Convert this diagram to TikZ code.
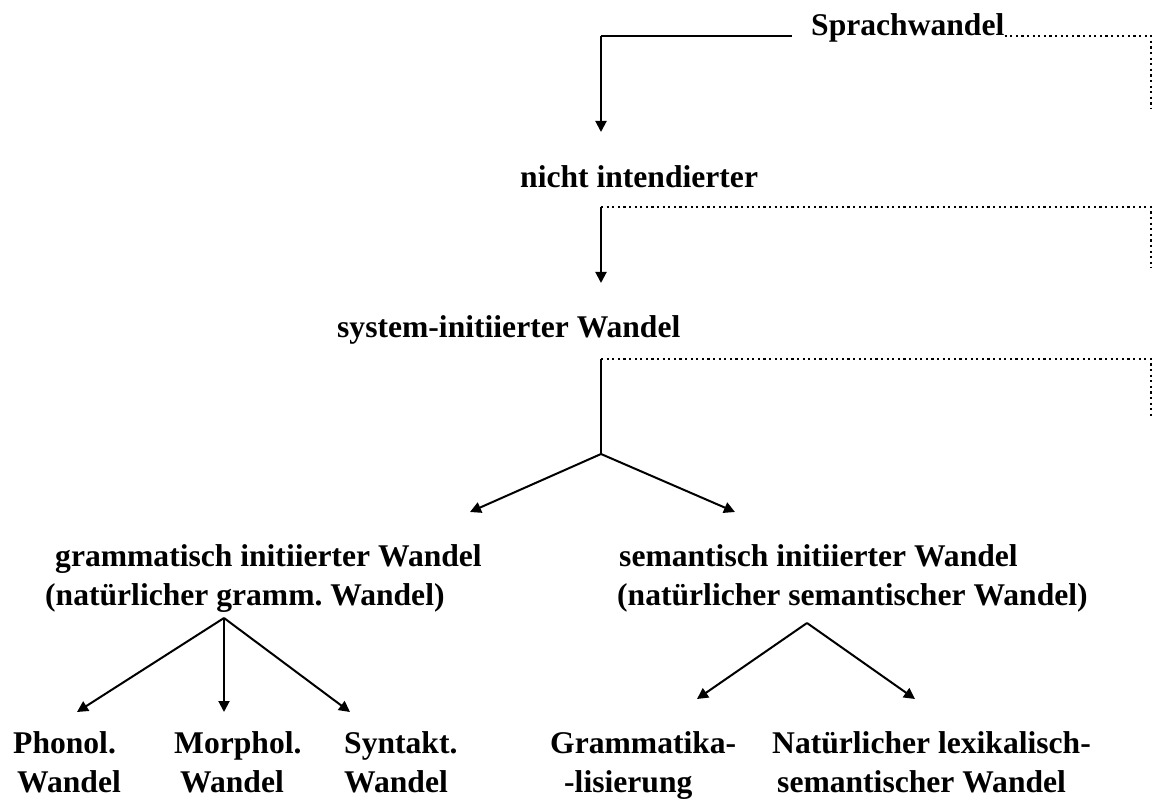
\documentclass[tikz,border=0pt]{standalone}
\usepackage{fontspec}
\setmainfont{Liberation Serif}
\usetikzlibrary{arrows.meta,positioning}
\tikzset{t/.style={inner sep=0pt,anchor=base west,align=left,font=\fontsize{31.6}{38.5}\selectfont\bfseries\frenchspacing},
 ln/.style={line width=2pt},
 ar/.style={line width=2pt,-{Triangle[length=11pt,width=11pt]}},
 dt/.style={line width=2.2pt,dash pattern=on 2.2pt off 3.4pt}}

\begin{document}
\begin{tikzpicture}[x=1pt,y=-1pt]
\useasboundingbox (0,0) rectangle (1159,799);
% Textzeilen
\node[t](s) at (811,36){Sprachwandel};\node[t](n) at (520,188){nicht intendierter};
\node[t](sy) at (337,338){system-initiierter Wandel};
\node[t](g) at (45,605){\hspace*{10pt}grammatisch initiierter Wandel\\(natürlicher gramm. Wandel)};
\node[t](se) at (617,605){\hspace*{2pt}semantisch initiierter Wandel\\(natürlicher semantischer Wandel)};
\node[t](p) at (13,792){Phonol.\\\hspace*{4pt}Wandel};\node[t](m) at (174,792){Morphol.\\\hspace*{6pt}Wandel};
\node[t](sk) at (344,792){Syntakt.\\Wandel};\node[t](gr) at (550,792){Grammatika-\\\hspace*{14pt}-lisierung};
\node[t](nl) at (772,792){Natürlicher lexikalisch-\\\hspace*{5pt}semantischer Wandel};
% Punkte
\coordinate(c1) at (601,36);\coordinate(e1) at (792,36);\coordinate(a1) at (601,132);
\coordinate(d1) at (1151,36);\coordinate(f1) at (1151,108);
\coordinate(c2) at (601,207);\coordinate(a2) at (601,283);\coordinate(d2) at (1151,207);\coordinate(f2) at (1151,268);
\coordinate(c3) at (601,359);\coordinate(d3) at (1151,359);\coordinate(f3) at (1151,418);
\coordinate(j) at (601,454);\coordinate(jl) at (470,512);\coordinate(jr) at (735,512);
\coordinate(ga) at (224,618);\coordinate(g1) at (77,712);\coordinate(g2) at (224,712);\coordinate(g3) at (350,712);
\coordinate(sa) at (807,623);\coordinate(s1) at (697,699);\coordinate(s2) at (915,699);
% Verbindungen
\draw[ln](e1)--(c1);\draw[ar](c1)--(a1);\draw[dt](s.base east)--(d1)--(f1);
\draw[dt](c2)--(d2)--(f2);\draw[ar](c2)--(a2);
\draw[dt](c3)--(d3)--(f3);\draw[ln](c3)--(j);\draw[ar](j)--(jl);\draw[ar](j)--(jr);
\draw[ar](ga)--(g1);\draw[ar](ga)--(g2);\draw[ar](ga)--(g3);
\draw[ar](sa)--(s1);\draw[ar](sa)--(s2);
\end{tikzpicture}
\end{document}
